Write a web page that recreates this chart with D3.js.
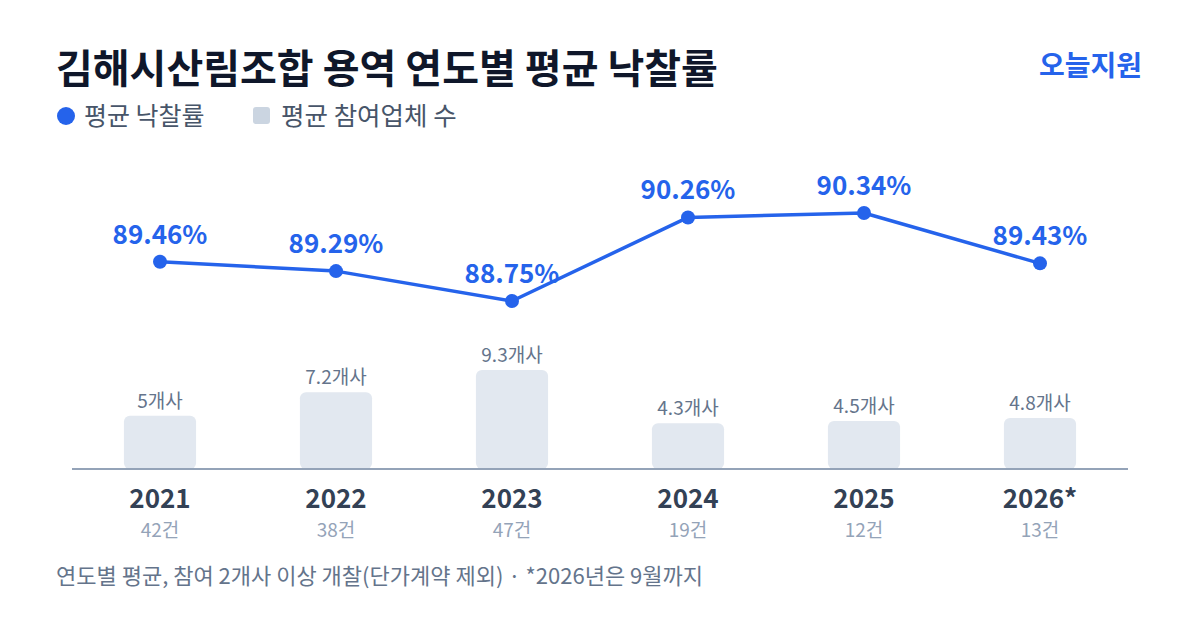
<!DOCTYPE html>
<html><head><meta charset="utf-8">
<script src="https://cdn.jsdelivr.net/npm/d3@7"></script>
<style>
html,body{margin:0;padding:0;background:#fff;}
svg{display:block;font-family:"Noto Sans CJK KR","Noto Sans",sans-serif;}
</style></head>
<body><svg id="c" width="1200" height="630"></svg>
<script>
const years = ["2021","2022","2023","2024","2025","2026*"];
const rates = [89.46, 89.29, 88.75, 90.26, 90.34, 89.43];
const bidders = [5, 7.2, 9.3, 4.3, 4.5, 4.8];
const counts = [42, 38, 47, 19, 12, 13];

const svg = d3.select("#c");
const blue = "#2563eb";

// title
svg.append("text").attr("x",56).attr("y",83).attr("font-size",40).attr("font-weight",700)
  .attr("fill","#0f172a").text("김해시산림조합 용역 연도별 평균 낙찰률");
svg.append("text").attr("x",1142).attr("y",76).attr("text-anchor","end").attr("font-size",28)
  .attr("font-weight",700).attr("fill",blue).text("오늘지원");

// legend
svg.append("circle").attr("cx",66).attr("cy",116).attr("r",9).attr("fill",blue);
svg.append("text").attr("x",84).attr("y",125).attr("font-size",25).attr("fill","#475569").text("평균 낙찰률");
svg.append("rect").attr("x",253).attr("y",107).attr("width",17).attr("height",17).attr("rx",3).attr("fill","#cbd5e1");
svg.append("text").attr("x",281).attr("y",125).attr("font-size",25.5).attr("fill","#475569").text("평균 참여업체 수");

// scales
const x = d3.scaleBand().domain(years).range([72,1128]).paddingInner(0.59).paddingOuter(0.295);
const yb = d3.scaleLinear().domain([0, 9.3]).range([469, 370]);
const yl = d3.scaleLinear().domain([88.75, 90.34]).range([301, 213]);
const cx = d => x(d) + x.bandwidth()/2;

// bars
svg.append("g").selectAll("rect").data(years).join("rect")
  .attr("x", d => x(d)).attr("width", x.bandwidth())
  .attr("y", (d,i) => yb(bidders[i])).attr("height", (d,i) => yb(0) - yb(bidders[i]))
  .attr("rx",6).attr("fill","#e2e8f0");
svg.append("g").selectAll("text").data(years).join("text")
  .attr("x", cx).attr("y", (d,i) => yb(bidders[i]) - 8)
  .attr("text-anchor","middle").attr("font-size",19).attr("fill","#64748b")
  .text((d,i) => bidders[i] + "개사");

// axis line
svg.append("line").attr("x1",72).attr("x2",1128).attr("y1",469).attr("y2",469)
  .attr("stroke","#94a3b8").attr("stroke-width",2);

// x labels
svg.append("g").selectAll("text").data(years).join("text")
  .attr("x", cx).attr("y",508).attr("text-anchor","middle").attr("font-size",26)
  .attr("font-weight",700).attr("fill","#334155").text(d => d);
svg.append("g").selectAll("text").data(years).join("text")
  .attr("x", cx).attr("y",537).attr("text-anchor","middle").attr("font-size",19)
  .attr("fill","#94a3b8").text((d,i) => counts[i] + "건");

// line
const line = d3.line().x((d,i) => cx(years[i])).y(d => yl(d));
svg.append("path").datum(rates).attr("d", line).attr("fill","none")
  .attr("stroke",blue).attr("stroke-width",3.5).attr("stroke-linejoin","round");
svg.append("g").selectAll("circle").data(rates).join("circle")
  .attr("cx",(d,i) => cx(years[i])).attr("cy", d => yl(d)).attr("r",7).attr("fill",blue);
svg.append("g").selectAll("text").data(rates).join("text")
  .attr("x",(d,i) => cx(years[i])).attr("y", d => yl(d) - 18)
  .attr("text-anchor","middle").attr("font-size",26).attr("font-weight",700).attr("fill",blue)
  .text(d => d.toFixed(2) + "%");

// footer
svg.append("text").attr("x",56).attr("y",584).attr("font-size",22).attr("fill","#64748b")
  .text("연도별 평균, 참여 2개사 이상 개찰(단가계약 제외) · *2026년은 9월까지");
</script></body></html>
